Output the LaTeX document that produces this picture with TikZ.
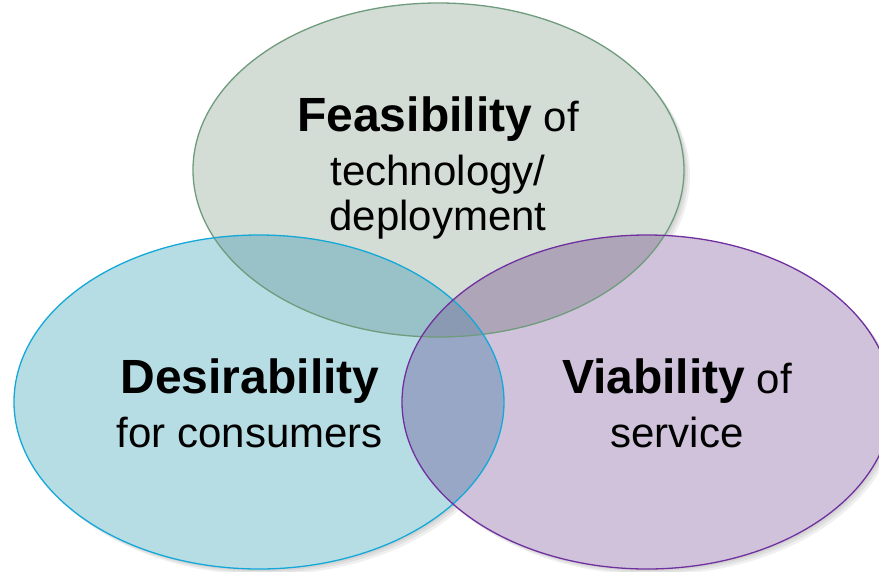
\documentclass[tikz,border=0pt]{standalone}
\usepackage{fontspec}
\setmainfont{Liberation Sans}
\definecolor{gfill}{HTML}{D3DDD5}
\definecolor{bfill}{HTML}{B6DCE4}
\definecolor{pfill}{HTML}{CFC2DA}
\definecolor{gbfill}{HTML}{99C1C8}
\definecolor{gpfill}{HTML}{AEA6B8}
\definecolor{bpfill}{HTML}{99A7C7}
\definecolor{gbpfill}{HTML}{8A9AB3}
\definecolor{gline}{HTML}{6F9C7D}
\definecolor{bline}{HTML}{14A8D8}
\definecolor{pline}{HTML}{7030A0}
\newcommand{\bigwd}{\fontsize{48}{52}\selectfont\bfseries}
\tikzset{
  shadowell/.style={fill=black, opacity=0.06},
  vennlabel/.style={align=center, text=black, inner sep=0pt, anchor=base, font=\fontsize{42}{45}\selectfont},
  rim/.style={line width=1.3pt}
}
\newcommand{\gell}{(438.5,170) ellipse [x radius=245.5, y radius=167]}
\newcommand{\bell}{(259,402) ellipse [x radius=245, y radius=167]}
\newcommand{\pell}{(647,402) ellipse [x radius=245, y radius=167]}
\begin{document}
\begin{tikzpicture}[x=1pt,y=-1pt]
\useasboundingbox (0,0) rectangle (879,571);
\clip (0,0) rectangle (879,571);
\fill[white] (0,0) rectangle (879,571);
% soft shadows
\foreach \d in {2,4,6}{
  \fill[shadowell] (438.5+\d,170+\d) ellipse [x radius=245.5, y radius=167];
  \fill[shadowell] (259+\d,402+\d) ellipse [x radius=245, y radius=167];
  \fill[shadowell] (647+\d,402+\d) ellipse [x radius=245, y radius=167];
}
% fills
\fill[gfill] \gell;
\fill[bfill] \bell;
\fill[pfill] \pell;
\begin{scope}
  \clip \gell;
  \fill[gbfill] \bell;
  \fill[gpfill] \pell;
\end{scope}
\begin{scope}
  \clip \bell;
  \fill[bpfill] \pell;
\end{scope}
\begin{scope}
  \clip \gell; \clip \bell;
  \fill[gbpfill] \pell;
\end{scope}
% rims
\draw[rim, gline] \gell;
\draw[rim, bline] \bell;
\draw[rim, pline] \pell;
% labels (anchored at the baseline of the last line)
\node[vennlabel] (feas) at (438,230) {{\bigwd Feasibility} of\\[9pt]technology/\\deployment};
\node[vennlabel] (desi) at (250,447) {{\bigwd Desirability}\\[9pt]for consumers};
\node[vennlabel] (viab) at (677,447) {{\bigwd Viability} of\\[9pt]service};
\end{tikzpicture}
\end{document}
